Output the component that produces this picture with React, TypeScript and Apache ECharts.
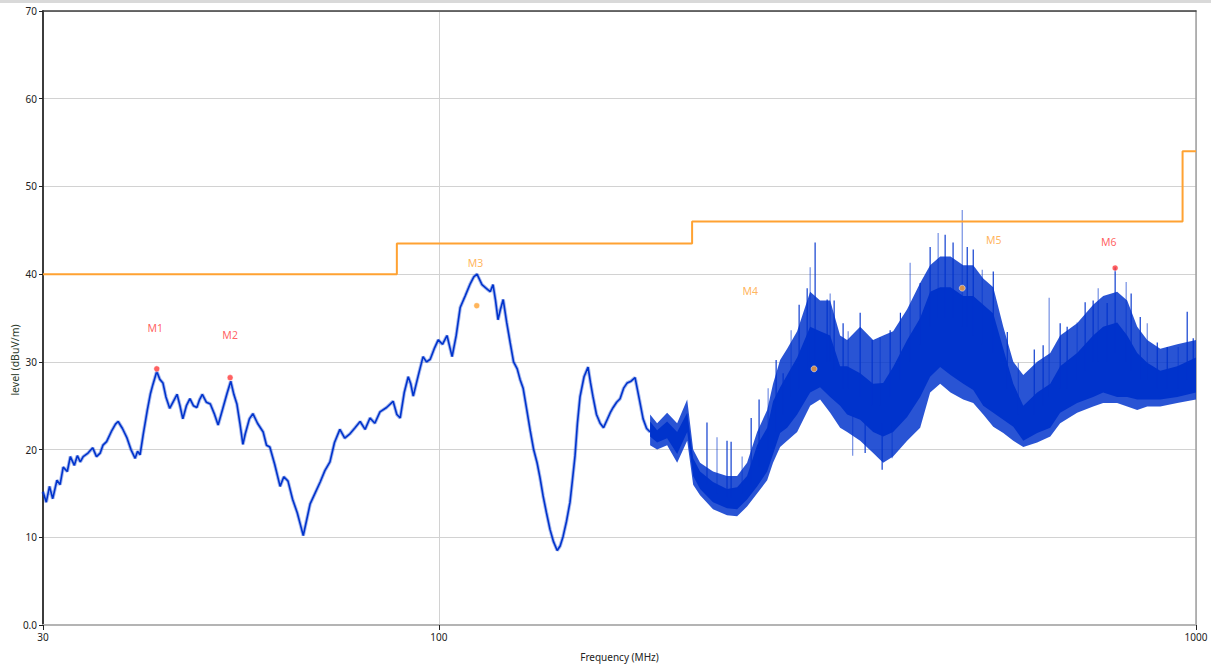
import React, { useEffect, useRef } from "react";
import * as echarts from "echarts";

// ---------- data ----------
const xTickLabels = [30, 100, 1000];
const yTickLabels = ["0.0", "10", "20", "30", "40", "50", "60", "70"];

// smooth part of the measured trace (MHz, dBuV/m)
const traceFreq = [
  30.0, 30.3, 30.6, 30.9, 31.3, 31.6, 31.9, 32.3, 32.6, 33.0, 33.3, 33.6, 33.9, 34.4, 34.9, 35.3, 35.7, 36.0, 36.4, 37.0,
  37.4, 37.7, 38.2, 38.7, 39.2, 39.7, 40.0, 40.3, 40.7, 41.2, 41.6, 41.9, 42.4, 42.8, 43.2, 43.6, 44.1, 44.6, 45.1, 45.5,
  45.9, 46.4, 46.9, 47.4, 47.9, 48.3, 48.7, 49.3, 49.9, 50.5, 51.1, 51.8, 52.5, 53.1, 53.6, 54.1, 54.6, 55.1, 55.5, 56.2,
  56.8, 57.6, 58.6, 59.2, 59.8, 60.7, 61.7, 62.4, 63.2, 64.1, 65.0, 65.6, 66.2, 66.9, 67.6, 68.6, 69.7, 70.7, 71.8, 72.8,
  74.0, 75.1, 76.3, 77.5, 78.7, 79.9, 81.1, 82.3, 83.6, 85.3, 87.0, 88.0, 88.9, 90.0, 91.1, 91.8, 92.5, 93.9, 95.3, 96.3,
  97.4, 98.6, 99.8, 101.1, 102.5, 103.3, 104.1, 105.4, 106.7, 108.3, 110.0, 111.2, 112.3, 114.0, 115.8, 116.9, 117.9, 118.8, 119.7, 120.6,
  121.6, 122.9, 124.2, 125.5, 126.9, 128.0, 129.2, 130.6, 132.0, 133.4, 134.8, 136.0, 137.3, 138.7, 140.2, 141.7, 143.3, 144.6, 145.9, 147.4,
  149.0, 150.1, 151.3, 152.4, 153.6, 155.5, 157.4, 158.6, 159.8, 161.5, 163.3, 165.0, 166.8, 168.4, 169.9, 171.7, 173.5, 175.4, 177.3, 179.4,
  181.6, 183.9, 186.1, 188.1, 190.1,
];
const traceLevel = [
  15.2, 14.0, 15.8, 14.4, 16.5, 16.0, 18.0, 17.5, 19.2, 18.2, 19.3, 18.6, 19.2, 19.6, 20.2, 19.2, 19.6, 20.5, 20.9, 22.2,
  22.9, 23.2, 22.4, 21.4, 20.0, 19.0, 19.8, 19.4, 21.8, 24.5, 26.4, 27.4, 28.9, 28.0, 27.6, 26.0, 24.7, 25.5, 26.3, 25.0,
  23.5, 25.0, 25.8, 25.0, 24.8, 25.7, 26.3, 25.4, 25.2, 24.1, 22.8, 24.6, 26.4, 27.8, 26.3, 25.2, 23.0, 20.6, 21.8, 23.5,
  24.1, 23.0, 22.0, 20.5, 20.3, 18.3, 15.8, 16.9, 16.4, 14.3, 12.8, 11.5, 10.2, 12.0, 13.8, 15.0, 16.3, 17.6, 18.6, 20.8,
  22.3, 21.3, 21.8, 22.5, 23.2, 22.3, 23.6, 23.0, 24.3, 24.8, 25.5, 24.0, 23.6, 26.5, 28.3, 27.5, 26.1, 28.4, 30.6, 30.0,
  30.3, 31.5, 32.5, 32.0, 33.0, 31.8, 30.6, 33.0, 36.2, 37.5, 38.9, 39.7, 40.0, 38.8, 38.3, 38.0, 38.8, 37.0, 34.8, 36.0,
  37.1, 34.5, 32.2, 30.0, 29.2, 28.0, 27.0, 24.6, 22.2, 20.0, 18.5, 16.8, 14.7, 12.8, 10.9, 9.5, 8.5, 9.0, 10.1, 11.8,
  14.0, 16.5, 19.3, 23.0, 26.0, 28.3, 29.4, 27.6, 26.0, 24.0, 23.0, 22.5, 23.4, 24.2, 24.8, 25.4, 25.8, 27.0, 27.6, 27.8,
  28.2, 25.8, 23.5, 22.4, 22.0,
];

// noisy part of the trace: dense core and outer fringe envelopes
const bandFreq = [
  190.1, 194.2, 200.2, 206.4, 212.8, 216.7, 221.3, 230.2, 240.2, 247.7, 255.3, 263.2, 271.4, 276.3, 282.3, 288.4, 297.3, 309.3, 318.8, 328.7,
  338.8, 346.1, 360.1, 374.6, 386.2, 398.1, 415.4, 432.2, 445.5, 459.3, 474.0, 492.7, 507.9, 523.6, 539.8, 556.5, 573.7, 591.4, 616.9, 642.0,
  661.6, 696.6, 731.4, 754.0, 786.8, 811.2, 836.3, 862.2, 897.0, 944.6, 1000,
];
const coreLow = [
  21.5, 20.8, 21.3, 19.5, 22.0, 17.0, 15.5, 14.0, 13.3, 13.2, 14.3, 15.8, 17.5, 19.5, 21.9, 22.5, 24.0, 26.5, 27.1, 26.0,
  25.0, 24.0, 23.4, 22.0, 21.5, 22.0, 23.7, 26.0, 28.3, 29.4, 28.5, 27.5, 26.8, 25.0, 24.2, 23.4, 22.6, 21.0, 21.9, 22.5,
  24.2, 25.3, 26.0, 26.5, 26.0, 26.0, 25.7, 25.7, 25.7, 26.0, 26.5,
];
const coreHigh = [
  23.2, 22.2, 23.2, 22.0, 24.2, 19.0, 17.5, 16.3, 15.5, 15.7, 17.0, 20.5, 22.5, 25.5, 27.1, 28.5, 30.5, 34.0, 33.5, 33.0,
  29.5, 29.5, 28.7, 27.5, 27.6, 29.4, 32.5, 35.0, 38.0, 38.5, 38.5, 37.5, 37.5, 36.5, 35.5, 31.5, 27.5, 25.0, 26.5, 27.5,
  29.5, 31.0, 33.0, 34.0, 34.5, 33.0, 31.0, 29.9, 29.0, 29.5, 30.5,
];
const outerLow = [
  20.5, 20.0, 20.5, 18.5, 21.0, 16.0, 14.8, 13.2, 12.5, 12.4, 13.5, 15.0, 16.5, 18.5, 20.3, 21.0, 22.0, 25.0, 25.7, 24.2,
  22.5, 22.0, 21.0, 19.6, 18.5, 19.2, 21.0, 22.5, 26.5, 27.5, 26.5, 25.7, 25.3, 24.0, 22.6, 21.9, 21.0, 20.3, 20.8, 21.5,
  23.0, 24.2, 24.9, 25.3, 25.3, 24.9, 24.5, 24.9, 24.9, 25.3, 25.7,
];
const outerHigh = [
  24.0, 23.0, 24.2, 23.0, 25.7, 20.0, 18.5, 17.5, 17.0, 17.0, 18.5, 22.0, 24.5, 27.5, 30.2, 31.5, 33.5, 38.0, 37.0, 37.0,
  33.0, 32.5, 34.0, 32.5, 33.0, 33.5, 36.0, 39.0, 41.0, 42.0, 42.0, 41.0, 41.0, 39.5, 38.5, 34.0, 30.0, 28.5, 30.0, 31.0,
  33.0, 34.4, 36.5, 37.5, 38.0, 37.0, 34.0, 32.5, 31.5, 32.0, 32.5,
];

// isolated spikes of the noisy part (start level, tip level)
const spikeFreq = [
  226.0, 233.0, 240.2, 243.2, 251.5, 258.5, 264.8, 272.2, 278.9, 284.9, 291.9, 299.1, 306.5, 309.3, 314.0, 325.7, 328.7, 332.7, 341.9, 347.2,
  360.1, 373.5, 382.7, 394.5, 407.0, 419.2, 432.2, 445.5, 456.5, 466.3, 477.7, 491.2, 498.7, 507.9, 522.0, 539.8, 563.3, 582.5, 611.5, 628.2,
  639.8, 661.6, 675.8, 696.6, 713.8, 731.4, 742.7, 763.2, 782.0, 808.7, 821.0, 844.0, 862.2, 888.9, 916.3, 947.3, 973.6, 991.6,
  352.0, 365.6, 385.0, 396.9,
];
const spikeLow = [
  16.0, 15.0, 14.5, 14.5, 15.0, 16.0, 18.0, 20.0, 22.0, 24.0, 26.0, 27.0, 29.0, 30.0, 30.0, 30.0, 30.0, 29.0, 27.0, 27.0,
  26.0, 25.0, 25.0, 26.0, 28.0, 30.0, 32.0, 34.0, 35.0, 35.0, 35.0, 34.0, 34.0, 33.0, 32.0, 31.0, 27.0, 24.0, 24.0, 25.0,
  26.0, 27.0, 27.0, 28.0, 29.0, 30.0, 30.0, 30.0, 31.0, 30.0, 29.0, 28.0, 28.0, 27.0, 27.0, 27.0, 28.0, 28.0,
  24.0, 23.0, 23.0, 23.0,
];
const spikeTop = [
  23.1, 21.4, 21.0, 20.9, 19.2, 23.6, 25.7, 27.0, 30.2, 28.7, 33.6, 36.5, 38.4, 40.8, 43.6, 37.1, 37.8, 37.0, 34.4, 33.5,
  35.6, 32.5, 32.8, 33.6, 35.6, 41.3, 39.0, 43.1, 44.7, 44.5, 43.6, 47.3, 43.1, 42.8, 40.5, 40.3, 33.4, 29.9, 31.4, 31.9,
  37.3, 34.4, 34.0, 34.5, 36.8, 37.0, 38.4, 36.7, 40.8, 39.1, 37.8, 35.1, 34.4, 32.2, 31.7, 31.7, 35.7, 32.7,
  19.3, 19.6, 17.7, 19.0,
];

// limit line
const limitFreq = [30, 88, 216, 960, 1000];
const limitLevel = [40, 43.5, 46, 54, 54];

// markers
const markerNames = ["M1", "M2", "M3", "M4", "M5", "M6"];
const markerFreq = [42.4, 53.0, 112.2, 313.0, 491.2, 782.0];
const markerLevel = [29.2, 28.2, 36.4, 29.2, 38.4, 40.7];
const labelFreq = [42.2, 53.0, 111.8, 257.7, 540.6, 766.7];
const labelLevel = [33.9, 33.1, 41.3, 38.1, 43.9, 43.7];

// ---------- styles ----------
const FONT = "'Noto Sans', 'DejaVu Sans', sans-serif";
const BLUE = "#0033cc";
const RED = "#ff3a3a";
const ORANGE = "#ffa232";
const markerColors = [RED, RED, ORANGE, ORANGE, ORANGE, RED];

export default function App() {
  const ref = useRef<HTMLDivElement>(null);

  useEffect(() => {
    const chart = echarts.init(ref.current!, undefined, { renderer: "svg" });

    const bandRender = (params: any, api: any) => {
      if (params.dataIndex !== 0) return null;
      const oUp = bandFreq.map((f, i) => api.coord([f, outerHigh[i]]));
      const oDn = bandFreq.map((f, i) => api.coord([f, outerLow[i]])).reverse();
      const cUp = bandFreq.map((f, i) => api.coord([f, coreHigh[i]]));
      const cDn = bandFreq.map((f, i) => api.coord([f, coreLow[i]])).reverse();
      return {
        type: "group",
        children: [
          { type: "polygon", shape: { points: oUp.concat(oDn) }, style: { fill: "rgba(0,51,204,0.84)" } },
          { type: "polygon", shape: { points: cUp.concat(cDn) }, style: { fill: BLUE } },
        ],
      };
    };

    const spikeRender = (params: any, api: any) => {
      const a = api.coord([api.value(0), api.value(1)]);
      const b = api.coord([api.value(0), api.value(2)]);
      return {
        type: "line",
        shape: { x1: a[0], y1: a[1], x2: b[0], y2: b[1] },
        style: { stroke: BLUE, lineWidth: 1.2, opacity: params.dataIndex % 3 === 1 ? 0.55 : 0.95 },
      };
    };

    const option: any = {
      animation: false,
      backgroundColor: "#ffffff",
      textStyle: { fontFamily: FONT },
      grid: { left: 43, right: 15, top: 11, bottom: 43, containLabel: false },
      graphic: [
        { type: "rect", left: 0, top: 0, shape: { width: 1211, height: 3 }, style: { fill: "#d9d9d9" }, z: 100 },
        {
          type: "text",
          x: 15,
          y: 360,
          rotation: Math.PI / 2,
          style: {
            text: "level (dBuV/m)",
            font: `10.5px ${FONT}`,
            fill: "#2a3a2a",
            align: "center",
            verticalAlign: "middle",
          },
        },
      ],
      xAxis: [
        {
          type: "log",
          logBase: 10,
          min: 30,
          max: 1000,
          name: "Frequency (MHz)",
          nameLocation: "middle",
          nameGap: 27,
          nameTextStyle: { color: "#222", fontSize: 10, fontFamily: FONT },
          axisLine: { show: true, onZero: false, lineStyle: { color: "#b4b4b4", width: 2 } },
          axisTick: { show: true, length: 5, lineStyle: { color: "#222" } },
          minorTick: { show: false },
          axisLabel: {
            color: "#222",
            fontSize: 10,
            fontFamily: FONT,
            margin: 7,
            showMinLabel: true,
            showMaxLabel: true,
            formatter: (v: number) => {
              const t = xTickLabels.find((x) => Math.abs(x - v) < 0.5);
              return t === undefined ? "" : String(t);
            },
          },
          splitLine: { show: true, lineStyle: { color: "#d2d2d2", width: 1 } },
        },
        {
          type: "value",
          position: "top",
          min: 0,
          max: 1,
          axisLine: { show: true, onZero: false, lineStyle: { color: "#3c3c3c", width: 1.5 } },
          axisTick: { show: false },
          axisLabel: { show: false },
          splitLine: { show: false },
        },
      ],
      yAxis: [
        {
          type: "value",
          min: 0,
          max: 70,
          interval: 10,
          axisLine: { show: true, onZero: false, lineStyle: { color: "#3c3c3c", width: 2 } },
          axisTick: { show: true, length: 4, lineStyle: { color: "#222" } },
          axisLabel: {
            color: "#222",
            fontSize: 10,
            fontFamily: FONT,
            margin: 6,
            formatter: (v: number) => yTickLabels[Math.round(v / 10)] ?? "",
          },
          splitLine: { show: true, lineStyle: { color: "#d2d2d2", width: 1 } },
        },
        {
          type: "value",
          position: "right",
          min: 0,
          max: 1,
          axisLine: { show: true, onZero: false, lineStyle: { color: "#a0a0a0", width: 1.5 } },
          axisTick: { show: false },
          axisLabel: { show: false },
          splitLine: { show: false },
        },
      ],
      series: [
        {
          type: "custom",
          name: "band",
          silent: true,
          clip: true,
          z: 2,
          renderItem: bandRender,
          encode: { x: 0, y: [1, 2] },
          data: bandFreq.map((f, i) => [f, outerLow[i], outerHigh[i]]),
        },
        {
          type: "custom",
          name: "spikes",
          silent: true,
          clip: true,
          z: 3,
          renderItem: spikeRender,
          encode: { x: 0, y: [1, 2] },
          data: spikeFreq.map((f, i) => [f, spikeLow[i], spikeTop[i]]),
        },
        {
          type: "line",
          name: "traceHalo",
          silent: true,
          z: 2,
          showSymbol: false,
          data: traceFreq.map((f, i) => [f, traceLevel[i]]),
          lineStyle: { color: BLUE, width: 3.5, opacity: 0.35 },
        },
        {
          type: "line",
          name: "trace",
          silent: true,
          z: 3,
          showSymbol: false,
          data: traceFreq.map((f, i) => [f, traceLevel[i]]),
          lineStyle: { color: BLUE, width: 1.6 },
        },
        {
          type: "line",
          name: "limit",
          silent: true,
          z: 4,
          step: "end",
          showSymbol: false,
          data: limitFreq.map((f, i) => [f, limitLevel[i]]),
          lineStyle: { color: ORANGE, width: 2 },
        },
        {
          type: "scatter",
          name: "markers",
          z: 6,
          symbol: "circle",
          symbolSize: 6,
          data: markerFreq.map((f, i) => ({
            value: [f, markerLevel[i]],
            itemStyle: { color: markerColors[i], borderColor: "#ffffff", borderWidth: 0.6 },
          })),
        },
        {
          type: "scatter",
          name: "markerLabels",
          z: 6,
          symbolSize: 1,
          itemStyle: { color: "rgba(0,0,0,0)" },
          data: labelFreq.map((f, i) => ({
            name: markerNames[i],
            value: [f, labelLevel[i]],
            label: {
              show: true,
              position: "inside",
              formatter: "{b}",
              color: markerColors[i],
              fontSize: 10.5,
              fontFamily: FONT,
            },
          })),
        },
      ],
    };

    chart.setOption(option);
    return () => chart.dispose();
  }, []);

  return (
    <div
      ref={ref}
      style={{ position: "fixed", left: 0, top: 0, width: 1211, height: 668, background: "#ffffff" }}
    />
  );
}
